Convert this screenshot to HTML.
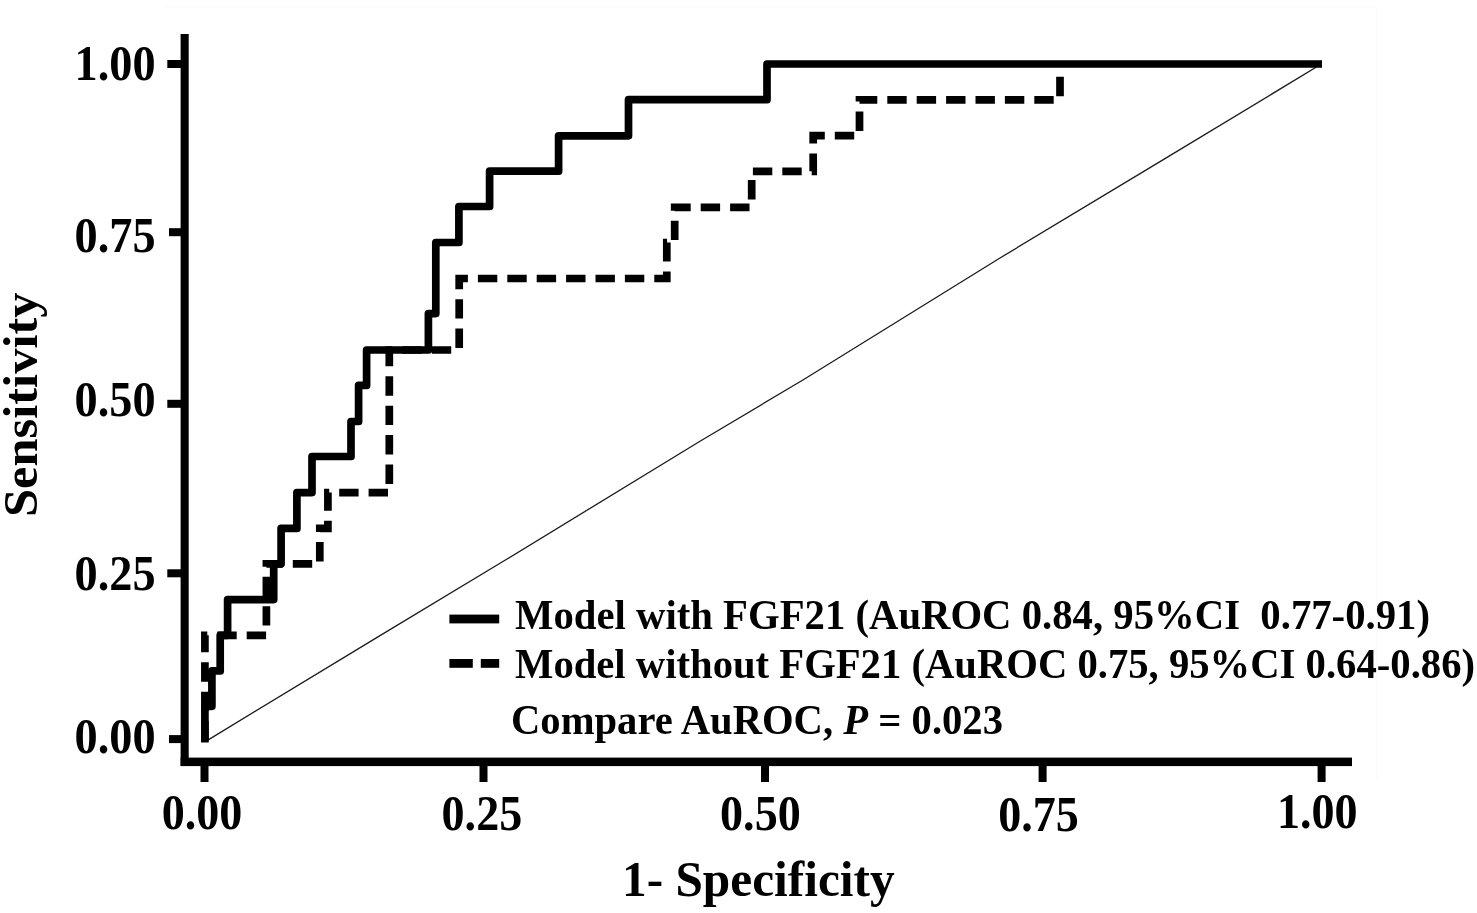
<!DOCTYPE html>
<html lang="en">
<head>
<meta charset="utf-8">
<title>ROC curves: models with and without FGF21</title>
<style>
html,body{margin:0;padding:0;background:#fff;}
body{width:1477px;height:913px;overflow:hidden;}
svg{display:block;}
text{font-family:"Liberation Serif", "Times New Roman", Times, serif;font-weight:bold;fill:#000;}
</style>
</head>
<body>
<svg width="1477" height="913" viewBox="0 0 1477 913">
<rect width="1477" height="913" fill="#fff"/>
<!-- faint frame -->
<path d="M165,7.5 H1377 V780" fill="none" stroke="#fbfbfb" stroke-width="1.2"/>
<!-- axes -->
<g fill="#000">
<rect x="180.6" y="34" width="8.1" height="732"/>
<rect x="180.6" y="757.6" width="1171.4" height="8.5"/>

<rect x="167.3" y="60" width="14.7" height="8"/>
<rect x="169" y="228.2" width="13" height="8"/>
<rect x="167.3" y="399.8" width="14.7" height="8"/>
<rect x="167.3" y="569.3" width="14.7" height="8"/>
<rect x="169" y="735.1" width="13" height="8"/>
<rect x="200.5" y="765" width="8" height="17"/>
<rect x="479.5" y="765" width="8" height="17"/>
<rect x="761" y="765" width="8" height="17"/>
<rect x="1038.6" y="765" width="8" height="17"/>
<rect x="1317.6" y="765" width="8" height="17"/>
</g>
<path d="M207,740.6 L380,635.6 L505.4,560 L700,441.3 L802.9,380 L1000,258 L1160,161.6 L1321,64.3" fill="none" stroke="#1a1a1a" stroke-width="1.3" stroke-linejoin="round"/>
<path d="M204.9,740.5 L204.9,635.3 L266.4,635.3 L266.4,563.8 L319.8,563.8 L319.8,528.4 L327.9,528.4 L327.9,492.6 L389.3,492.6 L389.3,350 L459.2,350 L459.2,278.5 L666.8,278.5 L666.8,242.5 L674.7,242.5 L674.7,207.3 L751.7,207.3 L751.7,171.3 L813.2,171.3 L813.2,135.6 L859.5,135.6 L859.5,99.9 L1060,99.9 L1060,66" fill="none" stroke="#000" stroke-width="7.7" stroke-dasharray="19.4 10" stroke-linejoin="miter"/>
<path d="M204.9,742.5 L204.9,706.3 L211.9,706.3 L211.9,670.9 L220.2,670.9 L220.2,635.3 L227.6,635.3 L227.6,599.6 L273.7,599.6 L273.7,563.8 L281.1,563.8 L281.1,528.4 L296.9,528.4 L296.9,492.6 L312,492.6 L312,456.5 L351,456.5 L351,421.5 L358.6,421.5 L358.6,385.4 L366.6,385.4 L366.6,350 L428.4,350 L428.4,313.6 L435.8,313.6 L435.8,242.5 L458.9,242.5 L458.9,206.5 L489.6,206.5 L489.6,171.2 L558.6,171.2 L558.6,135.8 L628.5,135.8 L628.5,99.7 L767,99.7 L767,64 L1322,64" fill="none" stroke="#000" stroke-width="7.7" stroke-linejoin="round"/>
<text x="74.6" y="80.4" font-size="51" textLength="81" lengthAdjust="spacingAndGlyphs">1.00</text>
<text x="74.6" y="252.2" font-size="51" textLength="81" lengthAdjust="spacingAndGlyphs">0.75</text>
<text x="74.6" y="416.3" font-size="51" textLength="81" lengthAdjust="spacingAndGlyphs">0.50</text>
<text x="74.6" y="589.6" font-size="51" textLength="81" lengthAdjust="spacingAndGlyphs">0.25</text>
<text x="74.6" y="753.3" font-size="51" textLength="81" lengthAdjust="spacingAndGlyphs">0.00</text>
<text x="161.8" y="828.7" font-size="51" textLength="80.6" lengthAdjust="spacingAndGlyphs">0.00</text>
<text x="441.6" y="829.5" font-size="51" textLength="80.6" lengthAdjust="spacingAndGlyphs">0.25</text>
<text x="720.1" y="830.4" font-size="51" textLength="80.6" lengthAdjust="spacingAndGlyphs">0.50</text>
<text x="998.2" y="831" font-size="51" textLength="80.6" lengthAdjust="spacingAndGlyphs">0.75</text>
<text x="1276.9" y="828" font-size="51" textLength="80.6" lengthAdjust="spacingAndGlyphs">1.00</text>
<text x="622" y="895.7" font-size="50" textLength="272.6" lengthAdjust="spacingAndGlyphs">1- Specificity</text>
<text transform="translate(37.3,517) rotate(-90)" font-size="49.3" textLength="224.5" lengthAdjust="spacingAndGlyphs">Sensitivity</text>
<rect x="449.4" y="614.6" width="49.8" height="8.8" fill="#000"/>
<rect x="449.4" y="659" width="23.4" height="8.8" fill="#000"/>
<rect x="480.8" y="659" width="18.4" height="8.8" fill="#000"/>
<text x="515" y="628.7" font-size="42.8" textLength="915" lengthAdjust="spacingAndGlyphs" style="white-space:pre">Model with FGF21 (AuROC 0.84, 95%CI  0.77-0.91)</text>
<text x="515" y="677.6" font-size="42.8" textLength="960" lengthAdjust="spacingAndGlyphs">Model without FGF21 (AuROC 0.75, 95%CI 0.64-0.86)</text>
<text x="511" y="734.3" font-size="42.8" textLength="492" lengthAdjust="spacingAndGlyphs">Compare AuROC, <tspan font-style="italic">P</tspan> = 0.023</text>
</svg>
</body>
</html>
